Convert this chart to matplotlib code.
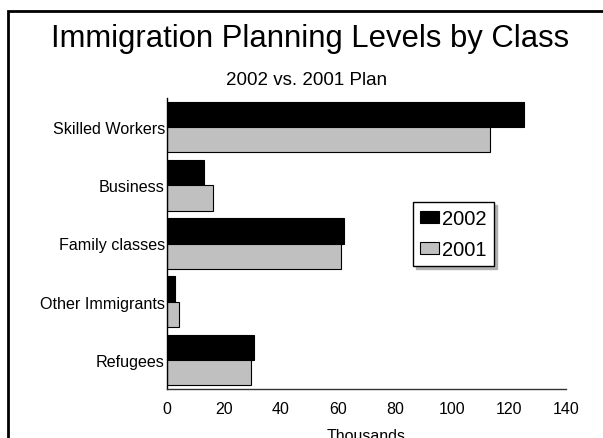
import matplotlib
matplotlib.use("Agg")
import matplotlib.pyplot as plt
import numpy as np
from matplotlib.patches import Rectangle

plt.rcParams['font.family'] = ['Liberation Sans', 'DejaVu Sans']

categories = ["Skilled Workers", "Business", "Family classes", "Other Immigrants", "Refugees"]
values_2002 = [125.4, 13.0, 62.0, 2.9, 30.6]
values_2001 = [113.4, 16.0, 61.0, 4.1, 29.4]
series_labels = ["2002", "2001"]
xticks = [0, 20, 40, 60, 80, 100, 120, 140]

fig = plt.figure(figsize=(6.03, 4.39), dpi=100)
ax = fig.add_axes([167/603, 49/439, 399/603, 291/439])

n = len(categories)
y = np.arange(n)[::-1]
h = 0.435
ax.barh(y + h/2, values_2002, height=h, color='black', edgecolor='black', linewidth=0.8, label=series_labels[0])
ax.barh(y - h/2, values_2001, height=h, color='#c0c0c0', edgecolor='black', linewidth=0.8, label=series_labels[1])

ax.set_ylim(-0.5, n - 0.5)
ax.set_xlim(0, 140)
ax.set_yticks(y)
ax.set_yticklabels(categories, fontsize=11.6)
ax.set_xticks(xticks)
ax.set_xticklabels([str(t) for t in xticks], fontsize=11.5)
ax.tick_params(axis='y', length=0, pad=1.5)
ax.tick_params(axis='x', length=0, pad=9)
ax.set_xlabel("Thousands", fontsize=11.5, labelpad=8)

for s in ['top', 'right']:
    ax.spines[s].set_visible(False)
ax.spines['left'].set_color('black')
ax.spines['left'].set_linewidth(1.0)
ax.spines['bottom'].set_color('#333333')
ax.spines['bottom'].set_linewidth(1.0)

leg = ax.legend(loc='upper left', bbox_to_anchor=((413 - 167) / 399, (390 - 203) / 291), borderaxespad=0,
                fontsize=14.5, frameon=True, fancybox=False,
                shadow={'color': '#b0b0b0', 'alpha': 1},
                handlelength=0.95, handleheight=0.55, handletextpad=0.15,
                borderpad=0.35, labelspacing=0.6)
leg.get_frame().set_edgecolor('black')
leg.get_frame().set_linewidth(1.0)

fig.text(0.515, 1 - 47.3/439, "Immigration Planning Levels by Class", ha='center', va='baseline', fontsize=22.3)
fig.text(0.508, 1 - 85/439, "2002 vs. 2001 Plan", ha='center', va='baseline', fontsize=13.5)

fig.patches.append(Rectangle((8/603, -0.1), 1.2, 1 - 12/439 + 0.1, transform=fig.transFigure,
                             fill=False, edgecolor='black', linewidth=2, clip_on=False))

fig.savefig("out.png", dpi=100)
